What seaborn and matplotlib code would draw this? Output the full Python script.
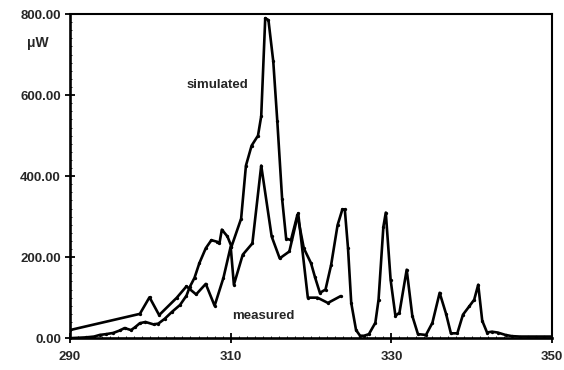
import matplotlib
matplotlib.use("Agg")
import matplotlib.pyplot as plt
import seaborn as sns
import pandas as pd
from matplotlib.ticker import MultipleLocator

# wavelength (nm) / power (µW)
sim_x = [290, 291, 292, 293, 293.7, 294.5, 295.4, 296.2, 296.8, 297.6, 298.1, 298.7,
         299.4, 300.4, 301.0, 301.8, 302.7, 303.7, 304.5, 304.9, 305.5, 306.1, 306.9,
         307.6, 308.3, 308.6, 308.9, 309.6, 310.1, 311.3, 311.9, 312.6, 313.4, 313.8,
         314.3, 314.7, 315.3, 315.8, 316.4, 316.9, 317.5, 318.3, 319.1, 320.0, 320.5,
         321.1, 321.8, 322.5, 323.3, 323.9, 324.2, 324.6, 325.0, 325.6, 326.1, 326.6,
         327.2, 328.0, 328.4, 329.0, 329.3, 329.9, 330.5, 331.0, 331.9, 332.6, 333.3,
         334.3, 335.1, 336.0, 336.8, 337.4, 338.2, 338.9, 339.7, 340.3, 340.8, 341.3,
         341.9, 342.5, 343.2, 344.2, 345, 346, 347, 348, 349, 350]
sim_y = [0, 1, 2, 4, 8, 10, 13, 19, 25, 20, 27, 37,
         40, 34, 36, 48, 65, 82, 105, 126, 149, 185, 222,
         242, 238, 234, 268, 251, 226, 295, 426, 475, 500, 548,
         790, 785, 683, 536, 344, 246, 242, 304, 222, 185, 150,
         112, 120, 181, 279, 318, 318, 222, 87, 20, 6, 6,
         10, 38, 95, 275, 310, 144, 55, 63, 169, 55, 10,
         8, 38, 112, 60, 12, 12, 58, 79, 95, 132, 43,
         14, 16, 14, 8, 5, 4, 4, 4, 4, 4]

meas_x = [290, 298.7, 299.9, 301.1, 303.3, 304.5, 305.7, 306.9, 308.0, 309.1, 310.0,
          310.4, 311.5, 312.7, 313.8, 315.1, 316.1, 317.3, 318.4, 319.6, 320.8, 322.1, 323.7]
meas_y = [20, 60, 101, 57, 100, 128, 108, 134, 80, 149, 226,
          132, 206, 234, 426, 251, 197, 214, 308, 100, 100, 87, 104]

x_ticks = [290, 310, 330, 350]
y_ticks = [0, 200, 400, 600, 800]
y_tick_labels = ["0.00", "200.00", "400.00", "600.00", "800.00"]

sns.set_style("white")
plt.rcParams['font.family'] = ['Liberation Sans', 'DejaVu Sans']

fig = plt.figure(figsize=(5.64, 3.70), dpi=100)
ax = fig.add_axes([0.124, 0.086, 0.855, 0.876])

sim_df = pd.DataFrame({"x": sim_x, "y": sim_y})
meas_df = pd.DataFrame({"x": meas_x, "y": meas_y})
sns.lineplot(data=sim_df, x="x", y="y", ax=ax, color="black", linewidth=1.9,
             marker="o", markersize=2.4, markeredgewidth=0, sort=False)
sns.lineplot(data=meas_df, x="x", y="y", ax=ax, color="black", linewidth=1.9,
             marker="o", markersize=2.4, markeredgewidth=0, sort=False)

ax.set_xlim(290, 350)
ax.set_ylim(0, 800)
ax.set_xticks(x_ticks)
ax.set_xticklabels([str(t) for t in x_ticks], fontsize=9.5, fontweight="bold")
ax.set_yticks(y_ticks)
ax.set_yticklabels(y_tick_labels, fontsize=9.5, fontweight="bold")
ax.yaxis.set_minor_locator(MultipleLocator(20))
ax.xaxis.set_minor_locator(MultipleLocator(1))
ax.tick_params(axis="both", which="major", direction="inout", length=7, width=1.3,
               color="black", pad=3)
ax.tick_params(axis="x", which="major", pad=6)
ax.tick_params(axis="both", which="minor", direction="in", length=1.5, width=0.6,
               color="black")
ax.tick_params(axis="both", which="both", bottom=True, left=True, top=False, right=False)
ax.set_xlabel("")
ax.set_ylabel("")
for side in ["left", "bottom"]:
    ax.spines[side].set_linewidth(1.9)
for side in ["top", "right"]:
    ax.spines[side].set_linewidth(1.5)
for s in ax.spines.values():
    s.set_color("black")

ax.text(308.3, 626, "simulated", fontsize=9.5, fontweight="bold", ha="center", va="center")
ax.text(314.1, 55, "measured", fontsize=9.5, fontweight="bold", ha="center", va="center")
fig.text(38 / 564, 1 - 43 / 370, "μW", fontsize=10, fontweight="bold", ha="center", va="center")

fig.savefig("out.png", dpi=100)
